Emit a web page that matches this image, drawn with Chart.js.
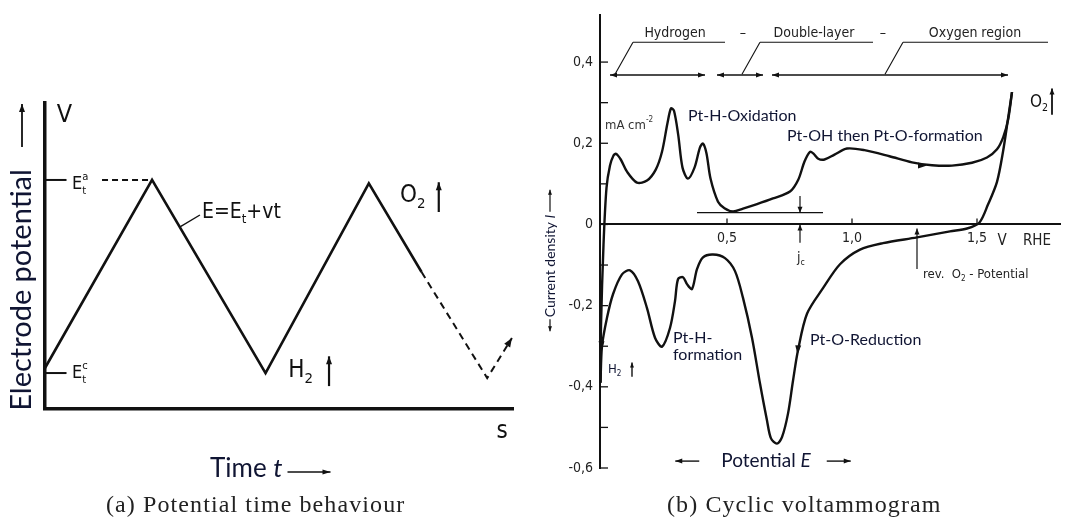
<!DOCTYPE html>
<html>
<head>
<meta charset="utf-8">
<script src="https://cdn.jsdelivr.net/npm/chart.js@4/dist/chart.umd.min.js"></script>
<style>
  body { margin: 0; background: #fff; width: 1073px; height: 525px; overflow: hidden; position: relative; }
  canvas { position: absolute; top: 0; }
  #left { left: 0; }
  #right { left: 540px; }
  .cap { position: absolute; top: 491px; font-family: "Liberation Serif", serif; font-size: 24px; letter-spacing: 1.1px; color: #222; white-space: nowrap; }
</style>
</head>
<body>
<canvas id="left" width="540" height="525" style="width:540px;height:525px"></canvas>
<canvas id="right" width="533" height="525" style="width:533px;height:525px"></canvas>
<div class="cap" style="left:106px">(a) Potential time behaviour</div>
<div class="cap" style="left:667px">(b) Cyclic voltammogram</div>
<script>
// ---- panel (a): triangular potential sweep
const timeSolid = [0, 0.995, 2.05, 3.01, 3.5];
const potSolid = [0.179, 1.0, 0.157, 0.985, 0.598];
const timeDashed = [3.5, 4.11, 4.34];
const potDashed = [0.598, 0.135, 0.31];
const eaGuideT = [0.53, 0.975];
const eaGuideV = [1.0, 1.0];
const levelValues = [1.0, 0.157];

// ---- panel (b): cyclic voltammogram (E in V RHE, I in mA cm-2)
const anodicE = [-0.006, -0.004, 0.006, 0.018, 0.032, 0.046, 0.056, 0.075, 0.1, 0.14,
  0.18, 0.215, 0.24, 0.262, 0.276, 0.288, 0.305, 0.322, 0.344, 0.37,
  0.392, 0.404, 0.418, 0.434, 0.464, 0.49, 0.524, 0.564, 0.62, 0.684,
  0.752, 0.785, 0.81, 0.832, 0.845, 0.865, 0.89, 0.93, 0.98, 1.05,
  1.15, 1.24, 1.32, 1.4, 1.48, 1.54, 1.58, 1.605, 1.625, 1.64];
const anodicI = [-0.39, -0.25, -0.05, 0.09, 0.145, 0.17, 0.174, 0.16, 0.13, 0.103,
  0.108, 0.135, 0.179, 0.25, 0.286, 0.28, 0.22, 0.14, 0.113, 0.14,
  0.19, 0.199, 0.175, 0.113, 0.056, 0.04, 0.032, 0.039, 0.05, 0.064,
  0.081, 0.11, 0.155, 0.179, 0.175, 0.162, 0.16, 0.172, 0.187, 0.183,
  0.168, 0.153, 0.146, 0.145, 0.152, 0.165, 0.185, 0.215, 0.26, 0.326];
const cathodicE = [1.64, 1.624, 1.604, 1.58, 1.544, 1.51, 1.46, 1.392, 1.26, 1.124,
  1.032, 0.952, 0.884, 0.82, 0.784, 0.764, 0.744, 0.72, 0.70, 0.676,
  0.66, 0.632, 0.6, 0.564, 0.532, 0.492, 0.444, 0.404, 0.38, 0.36,
  0.34, 0.324, 0.304, 0.292, 0.272, 0.24, 0.212, 0.18, 0.144, 0.112,
  0.08, 0.044, 0.02, 0.0, -0.006];
const cathodicI = [0.326, 0.26, 0.179, 0.105, 0.049, 0.005, -0.01, -0.017, -0.032, -0.046,
  -0.062, -0.098, -0.157, -0.22, -0.31, -0.385, -0.466, -0.524, -0.54, -0.527,
  -0.483, -0.392, -0.279, -0.181, -0.115, -0.083, -0.074, -0.081, -0.11, -0.159,
  -0.147, -0.13, -0.135, -0.189, -0.255, -0.301, -0.279, -0.206, -0.14, -0.113,
  -0.123, -0.172, -0.23, -0.30, -0.39];
const xTickVals = [0.5, 1.0, 1.5];
const yTickVals = [-0.6, -0.4, -0.2, 0, 0.2, 0.4];
const yMinorVals = [-0.5, -0.3, -0.1, 0.1, 0.3];
const regionNames = ['Hydrogen', 'Double-layer', 'Oxygen region'];
const regionSpans = [[0.032, 0.412], [0.46, 0.644], [0.68, 1.624]];

const fontFig = '"DejaVu Sans Condensed", "DejaVu Sans", sans-serif';
const fontCal = 'Lato, "Open Sans", sans-serif';
const navy = '#101533';

function pts(xs, ys) { return xs.map((x, i) => ({ x: x, y: ys[i] })); }

function comma(v) {
  if (Math.abs(v) < 1e-9) return '0';
  return v.toFixed(1).replace('.', ',');
}

// text made of runs: 'txt' | [txt, kind, noAdvance]; kind 1=sub, -1=sup, 2=italic
function rich(ctx, x, y, parts, size, family, color, align) {
  ctx.save();
  ctx.fillStyle = color;
  ctx.textBaseline = 'middle';
  ctx.textAlign = 'left';
  const runs = parts.map(p => {
    const t = typeof p === 'string' ? p : p[0];
    const k = typeof p === 'string' ? 0 : p[1];
    const keep = typeof p !== 'string' && p[2];
    const sz = (k === 1 || k === -1) ? size * 0.62 : size;
    const f = (k === 2 ? 'italic ' : '') + sz + 'px ' + family;
    ctx.font = f;
    return { t, f, w: keep ? 0 : ctx.measureText(t).width,
      dy: k === 1 ? size * 0.34 : (k === -1 ? -size * 0.42 : 0) };
  });
  const total = runs.reduce((a, r) => a + r.w, 0);
  let cx = align === 'center' ? x - total / 2 : (align === 'right' ? x - total : x);
  runs.forEach(r => { ctx.font = r.f; ctx.fillText(r.t, cx, y + r.dy); cx += r.w; });
  ctx.restore();
  return total;
}

function seg(ctx, x1, y1, x2, y2, w, dash) {
  ctx.save();
  ctx.strokeStyle = '#111';
  ctx.lineWidth = w || 1.2;
  ctx.setLineDash(dash || []);
  ctx.beginPath(); ctx.moveTo(x1, y1); ctx.lineTo(x2, y2); ctx.stroke();
  ctx.restore();
}

function head(ctx, x, y, ang, len, wid) {
  ctx.save();
  ctx.fillStyle = '#111';
  ctx.translate(x, y); ctx.rotate(ang);
  ctx.beginPath(); ctx.moveTo(0, 0); ctx.lineTo(-len, -wid / 2); ctx.lineTo(-len, wid / 2); ctx.closePath(); ctx.fill();
  ctx.restore();
}

function arrow(ctx, x1, y1, x2, y2, w, len, wid) {
  seg(ctx, x1, y1, x2, y2, w);
  head(ctx, x2, y2, Math.atan2(y2 - y1, x2 - x1), len || 7, wid || 5);
}

// ---------------- panel (a)
const leftDecor = {
  id: 'leftDecor',
  afterDraw(chart) {
    const ctx = chart.ctx;
    const px = v => chart.scales.x.getPixelForValue(v);
    const py = v => chart.scales.y.getPixelForValue(v);

    levelValues.forEach(v => seg(ctx, px(0), py(v), px(0.2), py(v), 2));
    rich(ctx, px(0.11), py(1.28), ['V'], 25, fontFig, '#111', 'left');
    rich(ctx, px(0.25), py(0.98), ['E', ['t', 1, true], ['a', -1]], 18, fontFig, '#111', 'left');
    rich(ctx, px(0.25), py(0.155), ['E', ['t', 1, true], ['c', -1]], 18, fontFig, '#111', 'left');
    seg(ctx, px(1.255), py(0.795), px(1.44), py(0.847), 1.4);
    rich(ctx, px(1.46), py(0.856), ['E=E', ['t', 1], '+vt'], 21, fontFig, '#111', 'left');
    rich(ctx, px(3.30), py(0.93), ['O', ['2', 1], ' '], 24, fontFig, '#111', 'left');
    arrow(ctx, px(3.66), py(0.86), px(3.66), py(0.99), 2.2, 8, 6);
    rich(ctx, px(2.26), py(0.165), ['H', ['2', 1], ' '], 24, fontFig, '#111', 'left');
    arrow(ctx, px(2.64), py(0.1), px(2.64), py(0.23), 2.2, 8, 6);
    rich(ctx, px(4.25), py(-0.1), ['s'], 24, fontFig, '#111', 'center');

    // arrow head at end of dashed sweep
    const n = timeDashed.length;
    const x1 = px(timeDashed[n - 2]), y1 = py(potDashed[n - 2]);
    const x2 = px(timeDashed[n - 1]), y2 = py(potDashed[n - 1]);
    head(ctx, x2, y2, Math.atan2(y2 - y1, x2 - x1), 9, 7);

    // y title
    ctx.save();
    ctx.translate(22, 290);
    ctx.rotate(-Math.PI / 2);
    ctx.fillStyle = navy;
    ctx.font = '29px ' + fontCal;
    ctx.textAlign = 'center';
    ctx.textBaseline = 'middle';
    ctx.fillText('Electrode potential', 0, 0, 246);
    ctx.restore();
    arrow(ctx, 22, 147, 22, 104, 1.8, 8, 6);

    // x title
    const w = rich(ctx, 210, 469, ['Time ', ['t', 2]], 26, fontCal, navy, 'left');
    arrow(ctx, 210 + w + 5, 472, 210 + w + 48, 472, 1.6, 8, 5);
  }
};

new Chart(document.getElementById('left'), {
  type: 'scatter',
  data: {
    datasets: [
      { data: pts(timeSolid, potSolid), showLine: true, borderColor: '#111', borderWidth: 2.6, pointRadius: 0, tension: 0 },
      { data: pts(timeDashed, potDashed), showLine: true, borderColor: '#111', borderWidth: 2, borderDash: [7, 5], pointRadius: 0, tension: 0 },
      { data: pts(eaGuideT, eaGuideV), showLine: true, borderColor: '#111', borderWidth: 2, borderDash: [6, 4], pointRadius: 0 }
    ]
  },
  options: {
    responsive: false,
    animation: false,
    layout: { padding: { left: 45, right: 27, top: 103, bottom: 116 } },
    plugins: { legend: { display: false }, tooltip: { enabled: false } },
    scales: {
      x: {
        type: 'linear', min: 0, max: 4.35,
        ticks: { display: false },
        grid: { display: true, drawOnChartArea: false, drawTicks: false },
        border: { display: true, color: '#111', width: 3.5 },
        afterFit: s => { s.height = 0; }
      },
      y: {
        type: 'linear', min: 0, max: 1.336,
        ticks: { display: false },
        grid: { display: true, drawOnChartArea: false, drawTicks: false },
        border: { display: true, color: '#111', width: 3.5 },
        afterFit: s => { s.width = 0; }
      }
    }
  },
  plugins: [leftDecor]
});

// ---------------- panel (b)
const rightDecor = {
  id: 'rightDecor',
  afterDraw(chart) {
    const ctx = chart.ctx;
    const px = v => chart.scales.x.getPixelForValue(v);
    const py = v => chart.scales.y.getPixelForValue(v);
    const x0 = px(chart.scales.x.min), y0 = py(0);

    // minor/major inside ticks
    yTickVals.concat(yMinorVals).forEach(v => seg(ctx, x0, py(v), x0 + 8, py(v), 1.3));
    xTickVals.forEach(v => seg(ctx, px(v), y0, px(v), y0 - 6, 1.3));
    rich(ctx, px(1.6), py(-0.042), ['V'], 15, fontFig, '#222', 'center');
    rich(ctx, px(1.74), py(-0.042), ['RHE'], 15, fontFig, '#222', 'center');

    // region headers
    const hdrX = [0.292, 0.848, 1.492];
    regionNames.forEach((t, i) => rich(ctx, px(hdrX[i]), py(0.471), [t], 14, fontFig, '#222', 'center'));
    rich(ctx, px(0.564), py(0.471), ['–'], 14, fontFig, '#222', 'center');
    rich(ctx, px(1.124), py(0.471), ['–'], 14, fontFig, '#222', 'center');
    const brk = [[0.124, 0.492, 0.052], [0.632, 1.084, 0.56], [1.204, 1.784, 1.132]];
    brk.forEach(b => {
      seg(ctx, px(b[0]), py(0.449), px(b[1]), py(0.449), 1.1);
      seg(ctx, px(b[0]), py(0.449), px(b[2]), py(0.37), 1.1);
    });
    regionSpans.forEach(s => {
      arrow(ctx, px(s[0]), py(0.368), px(s[1]), py(0.368), 1.6, 7, 5);
      head(ctx, px(s[0]), py(0.368), Math.PI, 7, 5);
    });

    rich(ctx, px(0.012), py(0.243), ['mA cm', ['-2', -1]], 13, fontFig, '#333', 'left');
    rich(ctx, px(1.712), py(0.30), ['O', ['2', 1]], 17, fontFig, '#111', 'left');
    arrow(ctx, px(1.80), py(0.27), px(1.80), py(0.335), 1.8, 6, 5);
    rich(ctx, px(0.344), py(0.267), ['Pt-H-Oxidation'], 16, fontCal, navy, 'left');
    rich(ctx, px(0.74), py(0.218), ['Pt-OH then Pt-O-formation'], 16, fontCal, navy, 'left');
    rich(ctx, px(0.284), py(-0.279), ['Pt-H-'], 16, fontCal, navy, 'left');
    rich(ctx, px(0.284), py(-0.321), ['formation'], 16, fontCal, navy, 'left');
    rich(ctx, px(0.832), py(-0.284), ['Pt-O-Reduction'], 16, fontCal, navy, 'left');
    rich(ctx, px(0.024), py(-0.358), ['H', ['2', 1]], 13, fontFig, navy, 'left');
    arrow(ctx, px(0.12), py(-0.375), px(0.12), py(-0.34), 1.4, 5, 4);

    // jc construction
    seg(ctx, px(0.38), py(0.029), px(0.884), py(0.029), 1.2);
    arrow(ctx, px(0.792), py(0.07), px(0.792), py(0.029), 1.2, 6, 5);
    arrow(ctx, px(0.792), py(-0.045), px(0.792), py(0), 1.2, 6, 5);
    rich(ctx, px(0.78), py(-0.083), ['j', ['c', 1]], 14, fontFig, '#222', 'left');

    // reversible O2 potential
    arrow(ctx, px(1.26), py(-0.11), px(1.26), py(-0.01), 1.2, 6, 5);
    rich(ctx, px(1.284), py(-0.123), ['rev.  O', ['2', 1], ' - Potential'], 13, fontFig, '#222', 'left');

    // sweep-direction arrows on the curve
    head(ctx, px(1.30), py(0.1455), 0, 9, 6);
    head(ctx, px(0.782), py(-0.32), Math.PI / 2 + 0.08, 9, 6);
    head(ctx, px(-0.002), py(-0.31), Math.PI / 2, 9, 6);

    // Potential E
    const w = rich(ctx, px(0.656), py(-0.583), ['Potential ', ['E', 2]], 19, fontCal, navy, 'center');
    const xc = px(0.656);
    arrow(ctx, xc - w / 2 - 22, py(-0.583), xc - w / 2 - 46, py(-0.583), 1.4, 7, 5);
    arrow(ctx, xc + w / 2 + 16, py(-0.583), xc + w / 2 + 40, py(-0.583), 1.4, 7, 5);

    // rotated y title
    ctx.save();
    ctx.translate(10, 266);
    ctx.rotate(-Math.PI / 2);
    const tw = rich(ctx, 0, 0, ['Current density ', ['I', 2]], 14, fontCal, navy, 'center');
    arrow(ctx, -tw / 2 - 2, 0, -tw / 2 - 14, 0, 1.2, 5, 4);
    arrow(ctx, tw / 2 + 3, 0, tw / 2 + 25, 0, 1.2, 5, 4);
    ctx.restore();
  }
};

new Chart(document.getElementById('right'), {
  type: 'scatter',
  data: {
    datasets: [
      { data: pts(anodicE, anodicI), showLine: true, borderColor: '#111', borderWidth: 2.4, pointRadius: 0, tension: 0.3, clip: false },
      { data: pts(cathodicE, cathodicI), showLine: true, borderColor: '#111', borderWidth: 2.4, pointRadius: 0, tension: 0.3, clip: false }
    ]
  },
  options: {
    responsive: false,
    animation: false,
    layout: { padding: { left: 15, right: 13, top: 13, bottom: 57 } },
    plugins: { legend: { display: false }, tooltip: { enabled: false } },
    scales: {
      x: {
        type: 'linear', min: -0.008, max: 1.832,
        position: { y: 0 },
        afterBuildTicks: s => { s.ticks = xTickVals.map(v => ({ value: v })); },
        ticks: { callback: v => comma(v), padding: 6, color: '#222', font: { family: fontFig, size: 14 }, maxRotation: 0, autoSkip: false },
        grid: { display: true, drawOnChartArea: false, drawTicks: false },
        border: { display: true, color: '#111', width: 2 }
      },
      y: {
        type: 'linear', min: -0.6, max: 0.515,
        afterBuildTicks: s => { s.ticks = yTickVals.map(v => ({ value: v })); },
        ticks: { callback: v => comma(v), padding: 7, color: '#222', font: { family: fontFig, size: 14 }, autoSkip: false },
        grid: { display: true, drawOnChartArea: false, drawTicks: false },
        border: { display: true, color: '#111', width: 2 },
        afterFit: s => { s.width = 45; }
      }
    }
  },
  plugins: [rightDecor]
});
</script>
</body>
</html>
